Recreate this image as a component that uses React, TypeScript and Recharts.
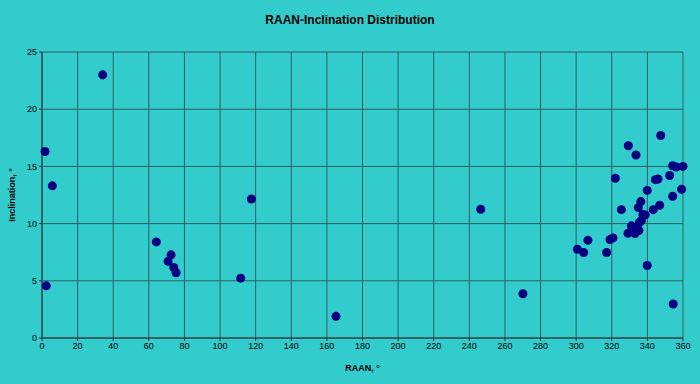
import { CartesianGrid, Scatter, ScatterChart, XAxis, YAxis, ZAxis } from 'recharts'

// RAAN (deg) and inclination (deg) per object
const raan = [
  1.7, 5.8, 34.1, 117.6, 2.4, 64.2, 70.8, 72.5, 74.0, 75.3, 111.6, 165.1,
  246.4, 270.1, 300.7, 304.2, 306.6, 317.1, 319.0, 320.7, 322.0, 325.4,
  329.3, 329.1, 331.0, 333.0, 333.6, 333.6, 335.2, 334.9, 335.5, 336.3,
  336.6, 337.5, 338.8, 339.9, 339.9, 343.3, 344.5, 346.0, 346.9, 347.5,
  352.5, 354.2, 354.2, 354.5, 356.2, 359.2, 360.0,
]
const inclination = [
  16.3, 13.3, 23.0, 12.15, 4.56, 8.4, 6.7, 7.27, 6.16, 5.7, 5.23, 1.89,
  11.26, 3.87, 7.76, 7.47, 8.55, 7.47, 8.6, 8.75, 13.96, 11.22,
  16.8, 9.16, 9.8, 9.13, 16.0, 9.6, 9.4, 11.4, 10.1, 11.92,
  10.26, 10.8, 10.76, 12.9, 6.34, 11.22, 13.84, 13.9, 11.6, 17.7,
  14.2, 15.06, 12.39, 2.97, 14.95, 13.0, 15.0,
]

const xTicks = [0, 20, 40, 60, 80, 100, 120, 140, 160, 180, 200, 220, 240, 260, 280, 300, 320, 340, 360]
const yTicks = [0, 5, 10, 15, 20, 25]

const points = raan.map((r, i) => ({ raan: r, inc: inclination[i] }))

const tickStyle = { fontSize: 9, fill: '#000', fontFamily: 'Liberation Sans, Arial, sans-serif' }

export default function App() {
  return (
    <div
      style={{
        position: 'absolute',
        left: 0,
        top: 0,
        width: 700,
        height: 384,
        background: '#33CCCC',
        fontFamily: 'Liberation Sans, Arial, sans-serif',
      }}
    >
      <div
        style={{
          position: 'absolute',
          top: 13,
          left: 0,
          width: 700,
          textAlign: 'center',
          fontSize: 12,
          fontWeight: 'bold',
          color: '#000',
        }}
      >
        RAAN-Inclination Distribution
      </div>
      <ScatterChart width={700} height={384} margin={{ top: 52, right: 17, bottom: 0, left: 0 }}>
        <CartesianGrid stroke='#2f5f5f' strokeWidth={1} />
        <XAxis
          type='number'
          dataKey='raan'
          domain={[0, 360]}
          ticks={xTicks}
          interval={0}
          height={46}
          tickSize={3}
          stroke='#333'
          tick={tickStyle}
          label={{
            value: 'RAAN, °',
            position: 'insideBottom',
            offset: 13,
            style: { fontSize: 9, fontWeight: 'bold', fill: '#000' },
          }}
        />
        <YAxis
          type='number'
          dataKey='inc'
          domain={[0, 25]}
          ticks={yTicks}
          interval={0}
          width={42}
          tickSize={3}
          stroke='#333'
          tick={tickStyle}
          label={{
            value: 'Inclination, °',
            angle: -90,
            position: 'insideLeft',
            offset: 12,
            style: { fontSize: 9, fontWeight: 'bold', fill: '#000', textAnchor: 'middle' },
          }}
        />
        <ZAxis range={[28, 28]} />
        <Scatter data={points} fill='#000080' isAnimationActive={false} />
      </ScatterChart>
    </div>
  )
}
